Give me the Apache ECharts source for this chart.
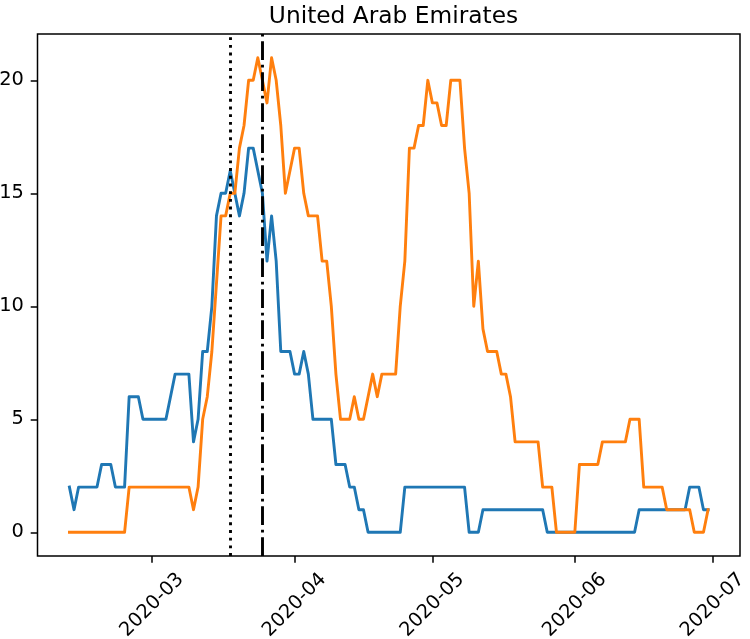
<!DOCTYPE html>
<html><head><meta charset="utf-8">
<script src="https://cdn.jsdelivr.net/npm/echarts@6/dist/echarts.min.js"></script>
<style>html,body{margin:0;padding:0;background:#fff}#c{width:750px;height:639px}</style>
</head><body><div id="c"></div>
<script>
const chartTitle = 'United Arab Emirates';
const startDay = [2020, 2, 12]; // first daily point: 2020-02-12
const blueValues = [
  2,1,2,2,2,2,2,3,3,3,2,2,2,6,6,6,5,5,5,5,5,5,6,7,7,7,7,4,5,8,
  8,10,14,15,15,16,15,14,15,17,17,16,15,12,14,12,8,8,8,7,7,8,7,5,5,5,5,5,3,3,
  3,2,2,1,1,0,0,0,0,0,0,0,0,2,2,2,2,2,2,2,2,2,2,2,2,2,2,0,0,0,
  1,1,1,1,1,1,1,1,1,1,1,1,1,1,0,0,0,0,0,0,0,0,0,0,0,0,0,0,0,0,
  0,0,0,0,1,1,1,1,1,1,1,1,1,1,1,2,2,2,1,1
];
const orangeValues = [
  0,0,0,0,0,0,0,0,0,0,0,0,0,2,2,2,2,2,2,2,2,2,2,2,2,2,2,1,2,5,
  6,8,11,14,14,15,15,17,18,20,20,21,20,19,21,20,18,15,16,17,17,15,14,14,14,12,12,10,7,5,
  5,5,6,5,5,6,7,6,7,7,7,7,10,12,17,17,18,18,20,19,19,18,18,20,20,20,17,15,10,12,
  9,8,8,8,7,7,6,4,4,4,4,4,4,2,2,2,0,0,0,0,0,3,3,3,3,3,4,4,4,4,
  4,4,5,5,5,2,2,2,2,2,1,1,1,1,1,1,0,0,0,1
];
const yTickValues = [0, 5, 10, 15, 20];
const xTickMonths = ['2020-03', '2020-04', '2020-05', '2020-06', '2020-07'];
const dottedLineDate = '2020-03-18';
const dashDotLineDate = '2020-03-25';

function toTs(s) { const p = s.split('-').map(Number); return new Date(p[0], p[1] - 1, p[2] || 1).getTime(); }
const dates = blueValues.map((_, i) => new Date(startDay[0], startDay[1] - 1, startDay[2] + i).getTime());
const span = dates[dates.length - 1] - dates[0];
const xMin = dates[0] - 0.05 * span, xMax = dates[dates.length - 1] + 0.05 * span;
const yMin = -1.05, yMax = 22.05;
const xTicks = xTickMonths.map(toTs);
function fmt(v) { const d = new Date(v); return d.getFullYear() + '-' + String(d.getMonth() + 1).padStart(2, '0'); }

const FONT = 'DejaVu Sans';
const chart = echarts.init(document.getElementById('c'), null, { renderer: 'canvas' });
chart.setOption({
  animation: false,
  backgroundColor: '#fff',
  title: {
    text: chartTitle, left: 388.5, top: 0, textAlign: 'center',
    textStyle: { fontFamily: FONT, fontSize: 23.3, fontWeight: 'normal', color: '#000' }
  },
  grid: { left: 37.5, right: 10, top: 34, bottom: 83, show: true, borderColor: '#000', borderWidth: 1.5,
          backgroundColor: 'transparent', containLabel: false, outerBoundsMode: 'none' },
  xAxis: {
    type: 'value', min: xMin, max: xMax, scale: true, position: 'bottom',
    axisLine: { show: false, onZero: false },
    splitLine: { show: false },
    axisTick: { show: true, customValues: xTicks, length: 6.8, lineStyle: { color: '#000', width: 1.5 } },
    axisLabel: {
      customValues: xTicks, formatter: fmt, rotate: 45, align: 'center', verticalAlign: 'middle', margin: 49,
      fontFamily: FONT, fontSize: 19.4, color: '#000'
    }
  },
  yAxis: {
    type: 'value', min: yMin, max: yMax, position: 'left',
    axisLine: { show: false, onZero: false },
    splitLine: { show: false },
    axisTick: { show: true, customValues: yTickValues, length: 6.8, lineStyle: { color: '#000', width: 1.5 } },
    axisLabel: { customValues: yTickValues, margin: 13.6, fontFamily: FONT, fontSize: 19.4, color: '#000' }
  },
  series: [
    {
      type: 'line', data: dates.map((t, i) => [t, blueValues[i]]), showSymbol: false, z: 2,
      lineStyle: { color: '#1f77b4', width: 2.9, cap: 'square', join: 'round' }
    },
    {
      type: 'line', data: dates.map((t, i) => [t, orangeValues[i]]), showSymbol: false, z: 3,
      lineStyle: { color: '#ff7f0e', width: 2.9, cap: 'square', join: 'round' },
      markLine: {
        silent: true, symbol: ['none', 'none'], label: { show: false }, animation: false,
        data: [
          { xAxis: toTs(dottedLineDate), lineStyle: { color: '#000', width: 2.9, type: [2.9, 4.8], cap: 'butt' } },
          { xAxis: toTs(dashDotLineDate), lineStyle: { color: '#000', width: 2.9, type: [18.7, 4.7, 2.9, 4.7], cap: 'butt' } }
        ]
      }
    }
  ]
});
</script></body></html>
